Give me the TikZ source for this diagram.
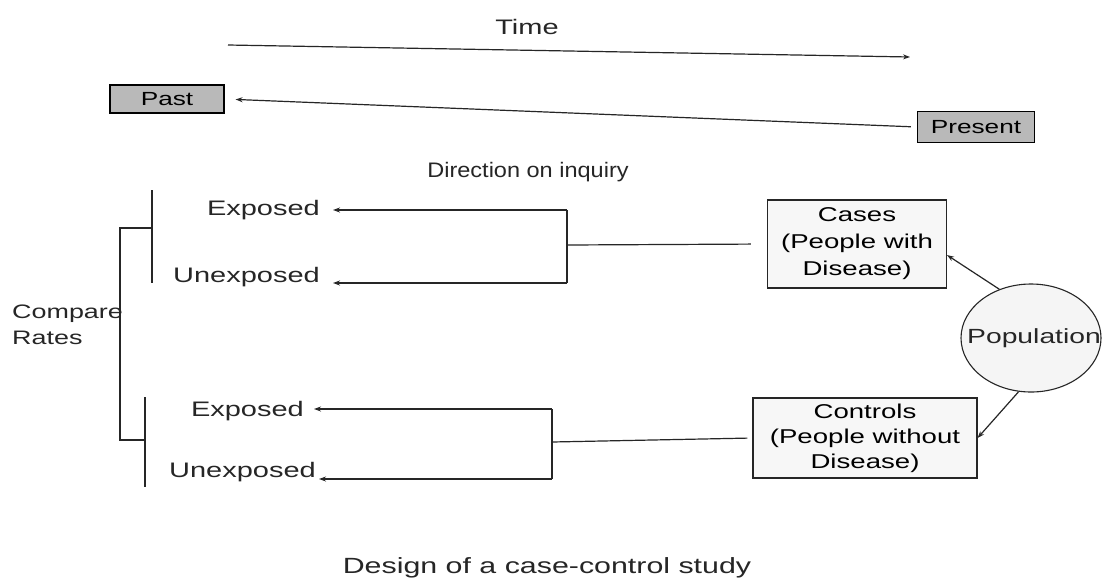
\documentclass[tikz,border=0pt]{standalone}
\usepackage{fontspec}
\setmainfont{Liberation Sans}
\newfontfamily\widefont{Liberation Sans}[FakeStretch=1.38]
\newfontfamily\midfont{Liberation Sans}[FakeStretch=1.12]
\usetikzlibrary{arrows.meta,shapes.geometric}
\begin{document}
\begin{tikzpicture}[x=1pt,y=-1pt,
 lbl/.style={font=\widefont\fontsize{21}{26}\selectfont, inner sep=0pt, text=black!85},
 tbox/.style={draw=black, line width=1.2pt, fill=gray!55, font=\widefont\fontsize{19}{22}\selectfont, inner sep=0pt},
 gbox/.style={draw=black!85, line width=1.1pt, fill=gray!6, align=center, font=\widefont\fontsize{20}{27}\selectfont, inner sep=0pt},
 ln/.style={line width=1.2pt, draw=black!85},
 arr/.style={ln, -{Stealth[length=7pt,width=5pt]}},
]
\fill[white] (0,0) rectangle (1105,587);
\useasboundingbox (0,0) rectangle (1105,587);

% time
\node[lbl] (time) at (527,27) {Time};
\coordinate (ts) at (228,45);
\coordinate (te) at (910,57);
\draw[arr] (ts) -- (te);

\node[tbox, minimum width=114pt, minimum height=28pt] (past) at (167,99) {Past};
\node[tbox, minimum width=117pt, minimum height=31pt] (present) at (976,127) {Present};
\draw[arr, shorten >=11pt, shorten <=6pt] (present.west) -- (past.east);

\node[lbl, font=\midfont\fontsize{21}{26}\selectfont] (dir) at (528,172) {Direction on inquiry};

% top group
\coordinate (b1t) at (152,190);
\coordinate (b1b) at (152,283);
\draw[ln] (b1t) -- (b1b);
\node[lbl, anchor=east] (e1) at (320,210) {Exposed};
\node[lbl, anchor=east] (u1) at (320,277) {Unexposed};
\coordinate (r1t) at (567,210);
\coordinate (r1b) at (567,283);
\coordinate (r1m) at (567,245);
\draw[ln] (r1t) -- (r1b);
\draw[arr, shorten >=13pt] (r1t) -- (r1t -| e1.east);
\draw[arr, shorten >=13pt] (r1b) -- (r1b -| u1.east);
\node[gbox, minimum width=179pt, minimum height=88pt] (cases) at (857,244) {Cases\\(People with\\Disease)};
\draw[ln, shorten >=16pt] (r1m) -- (cases.west);

% bottom group
\coordinate (b2t) at (145,397);
\coordinate (b2b) at (145,487);
\draw[ln] (b2t) -- (b2b);
\node[lbl, anchor=east] (e2) at (304,411) {Exposed};
\node[lbl, anchor=east] (u2) at (316,472) {Unexposed};
\coordinate (r2t) at (552,409);
\coordinate (r2b) at (552,479);
\coordinate (r2m) at (552,442);
\draw[ln] (r2t) -- (r2b);
\draw[arr, shorten >=10pt] (r2t) -- (r2t -| e2.east);
\draw[arr, shorten >=3pt] (r2b) -- (r2b -| u2.east);
\node[gbox, minimum width=224pt, minimum height=80pt, font=\widefont\fontsize{20}{25}\selectfont] (controls) at (865,438) {Controls\\(People without\\Disease)};
\draw[ln, shorten >=5pt] (r2m) -- (controls.west);

% compare rates
\node[lbl, anchor=north west, align=left, font=\widefont\fontsize{19.5}{26}\selectfont] (cr) at (12,305) {Compare\\Rates};
\coordinate (c1) at (152,228);
\coordinate (c2) at (120,228);
\coordinate (c3) at (120,440);
\coordinate (c4) at (145,440);
\draw[ln] (c1) -- (c2) -- (c3) -- (c4);

% population
\node[ellipse, draw=black!85, line width=1.1pt, fill=gray!8, minimum width=140pt, minimum height=108pt, inner sep=0pt] (pop) at (1031,338) {};
\node[lbl, font=\widefont\fontsize{20.5}{26}\selectfont] (poptxt) at (1034,338) {Population};
\draw[arr] (pop.123) -- (cases.-7);
\draw[arr] (pop.-103) -- (controls.east);

% caption
\node[lbl, font=\widefont\fontsize{22}{26}\selectfont] (cap) at (547,568) {Design of a case-control study};
\end{tikzpicture}
\end{document}
